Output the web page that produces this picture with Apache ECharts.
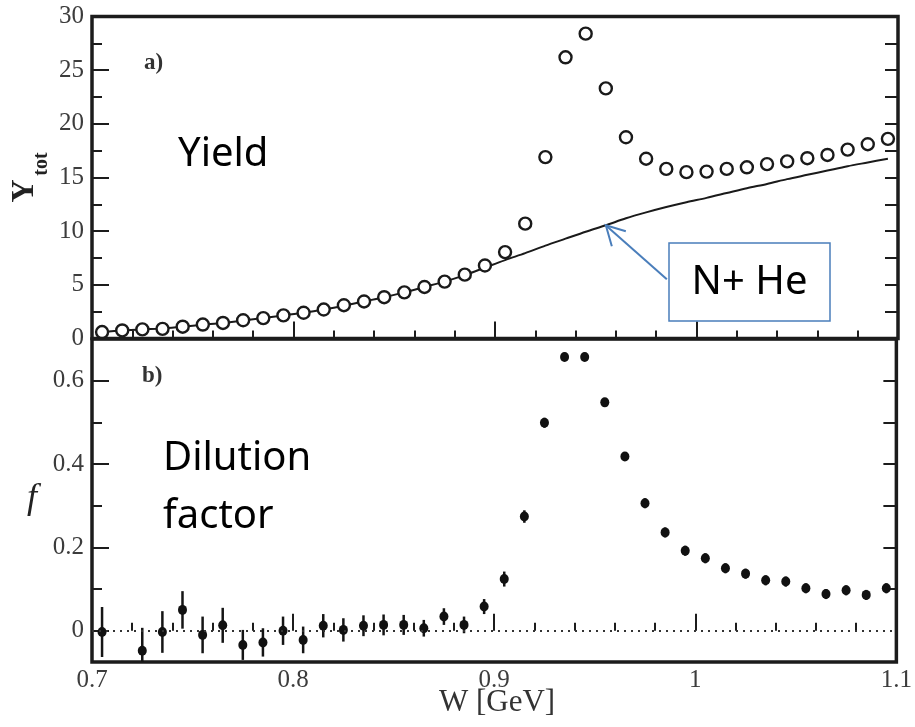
<!DOCTYPE html>
<html>
<head>
<meta charset="utf-8">
<script src="https://cdn.jsdelivr.net/npm/echarts@6/dist/echarts.min.js"></script>
<style>
html,body{margin:0;padding:0;background:#fff;}
#chart{width:915px;height:727px;}
</style>
</head>
<body>
<div id="chart"></div>
<script>
// ---- data ----
const wPoints = [0.705,0.715,0.725,0.735,0.745,0.755,0.765,0.775,0.785,0.795,
                 0.805,0.815,0.825,0.835,0.845,0.855,0.865,0.875,0.885,0.895,
                 0.905,0.915,0.925,0.935,0.945,0.955,0.965,0.975,0.985,0.995,
                 1.005,1.015,1.025,1.035,1.045,1.055,1.065,1.075,1.085,1.095];
const yieldVals = [0.6,0.75,0.85,0.9,1.1,1.3,1.45,1.7,1.9,2.15,
                   2.4,2.7,3.1,3.45,3.85,4.3,4.8,5.3,5.95,6.8,
                   8.05,10.7,16.9,26.2,28.4,23.3,18.75,16.75,15.8,15.5,
                   15.55,15.8,15.95,16.25,16.5,16.8,17.1,17.6,18.1,18.6];
const nHeVals = [0.6,0.75,0.85,0.92,1.1,1.28,1.45,1.68,1.9,2.15,
                 2.4,2.7,3.05,3.45,3.85,4.3,4.8,5.3,5.9,6.6,
                 7.3,7.95,8.65,9.3,9.95,10.55,11.2,11.75,12.25,12.7,
                 13.1,13.55,14.0,14.4,14.85,15.25,15.65,16.05,16.4,16.75];
const fVals = [-0.003,null,-0.048,-0.003,0.050,-0.010,0.013,-0.034,-0.028,0.000,
               -0.022,0.012,0.002,0.012,0.014,0.014,0.006,0.034,0.014,0.058,
               0.124,0.274,0.499,0.657,0.657,0.548,0.418,0.306,0.236,0.192,
               0.174,0.150,0.137,0.121,0.118,0.102,0.088,0.097,0.086,0.102];
const fErrs = [0.060,null,0.055,0.050,0.045,0.044,0.042,0.036,0.034,0.034,
               0.032,0.028,0.028,0.025,0.025,0.024,0.020,0.020,0.020,0.018,
               0.018,0.015,0.012,0.010,0.010,0.010,0.010,0.012,0.012,0.012,
               0.012,0.012,0.012,0.012,0.012,0.012,0.012,0.012,0.012,0.012];
const xTicks = {min:0.7, max:1.1, interval:0.1};
const xLabelValues = [0.7, 0.8, 0.9, 1.0, 1.1];
const yTopTicks = {min:0, max:30, interval:5};
const fRange = {min:-0.075, max:0.7};
const fLabelTicks = [0, 0.2, 0.4, 0.6];
const fMinorTicks = [0.1, 0.3, 0.5];
const fRightTicks = [0.1, 0.2, 0.3, 0.4, 0.5, 0.6];
const annotTip = [0.955, 10.55];

// ---- build ----
const frameColor = '#1c1c1c';
const labelFont = {fontFamily:'Liberation Serif', fontSize:25, color:'#3c3c3c'};
const yieldData = wPoints.map((w,i)=>[w, yieldVals[i]]);
const nHeData = wPoints.map((w,i)=>[w, nHeVals[i]]);
const fData = [], fErrData = [];
wPoints.forEach((w,i)=>{
  if (fVals[i] !== null) { fData.push([w, fVals[i]]); fErrData.push([w, fVals[i], fErrs[i]]); }
});

function xAxisCfg(grid, showLabel){
  return {
    type:'value', gridIndex:grid, min:xTicks.min, max:xTicks.max, interval:xTicks.interval,
    axisLine:{show:false},
    axisTick:{show:true, inside:true, length:17, lineStyle:{color:frameColor, width:2}},
    minorTick:{show:true, splitNumber:5, length:8, lineStyle:{color:frameColor, width:2}},
    splitLine:{show:false}, minorSplitLine:{show:false},
    axisLabel:Object.assign({show:showLabel, margin:6, customValues:xLabelValues, hideOverlap:false,
      formatter:function(v){ return String(Math.round(v*10)/10); }}, labelFont)
  };
}

const chart = echarts.init(document.getElementById('chart'), null, {renderer:'canvas'});
chart.setOption({
  animation:false,
  backgroundColor:'#fff',
  grid:[
    {left:92, width:806, top:16.5, height:322, show:true, borderColor:frameColor, borderWidth:3.5, backgroundColor:'transparent'},
    {left:92, width:806, top:339, height:323, show:true, borderColor:frameColor, borderWidth:3.5, backgroundColor:'transparent'}
  ],
  xAxis:[ xAxisCfg(0,false), xAxisCfg(1,true) ],
  yAxis:[
    {type:'value', gridIndex:0, position:'left', min:yTopTicks.min, max:yTopTicks.max, interval:yTopTicks.interval,
     axisLine:{show:false}, splitLine:{show:false},
     axisTick:{show:true, inside:true, length:17, lineStyle:{color:frameColor, width:2}},
     minorTick:{show:true, splitNumber:2, length:10, lineStyle:{color:frameColor, width:2}},
     axisLabel:Object.assign({margin:8, showMinLabel:true, showMaxLabel:true}, labelFont)},
    {type:'value', gridIndex:0, position:'right', min:yTopTicks.min, max:yTopTicks.max, interval:yTopTicks.interval,
     axisLine:{show:false}, splitLine:{show:false}, axisLabel:{show:false},
     axisTick:{show:true, inside:true, length:13, lineStyle:{color:frameColor, width:2}},
     minorTick:{show:true, splitNumber:2, length:13, lineStyle:{color:frameColor, width:2}}},
    {type:'value', gridIndex:1, position:'left', min:fRange.min, max:fRange.max,
     axisLine:{show:false}, splitLine:{show:false},
     axisTick:{show:true, inside:true, length:17, customValues:fLabelTicks, lineStyle:{color:frameColor, width:2}},
     axisLabel:Object.assign({margin:8, customValues:fLabelTicks}, labelFont)},
    {type:'value', gridIndex:1, position:'left', min:fRange.min, max:fRange.max,
     axisLine:{show:false}, splitLine:{show:false}, axisLabel:{show:false},
     axisTick:{show:true, inside:true, length:10, customValues:fMinorTicks, lineStyle:{color:frameColor, width:2}}},
    {type:'value', gridIndex:1, position:'right', min:fRange.min, max:fRange.max,
     axisLine:{show:false}, splitLine:{show:false}, axisLabel:{show:false},
     axisTick:{show:true, inside:true, length:13, customValues:fRightTicks, lineStyle:{color:frameColor, width:2}}}
  ],
  series:[
    {type:'line', xAxisIndex:0, yAxisIndex:0, data:nHeData, showSymbol:false, smooth:0.3,
     lineStyle:{color:'#1a1a1a', width:2}, z:2},
    {type:'scatter', xAxisIndex:0, yAxisIndex:0, data:yieldData, symbol:'circle', symbolSize:12,
     itemStyle:{color:'#fff', borderColor:'#1a1a1a', borderWidth:2.4, opacity:1}, z:3},
    {type:'custom', xAxisIndex:1, yAxisIndex:2, data:fErrData, z:3,
     encode:{x:0, y:1},
     renderItem:function(params, api){
       const x = api.value(0), f = api.value(1), e = api.value(2);
       const lo = Math.max(f - e, fRange.min), hi = Math.min(f + e, fRange.max);
       const p1 = api.coord([x, lo]), p2 = api.coord([x, hi]);
       return {type:'line', shape:{x1:p1[0], y1:p1[1], x2:p2[0], y2:p2[1]},
               style:{stroke:'#151515', lineWidth:2.5}};
     }},
    {type:'scatter', xAxisIndex:1, yAxisIndex:2, data:fData, symbol:'circle', symbolSize:[9,10],
     itemStyle:{color:'#111', opacity:1}, z:4,
     markLine:{silent:true, symbol:'none', label:{show:false},
       lineStyle:{type:[2,5], color:'#333', width:2},
       data:[{yAxis:0}]}}
  ]
});

// annotations
const tip = chart.convertToPixel({xAxisIndex:0, yAxisIndex:0}, annotTip);
const tx = tip[0], ty = tip[1];
const blue = '#4a7ebb';
chart.setOption({
  graphic:[
    {type:'text', x:178, y:155, style:{text:'Yield', font:'40px "Noto Sans"', fill:'#000', verticalAlign:'middle'}},
    {type:'text', x:163, y:459, style:{text:'Dilution', font:'40px "Noto Sans"', fill:'#000', verticalAlign:'middle'}},
    {type:'text', x:163, y:517, style:{text:'factor', font:'40px "Noto Sans"', fill:'#000', verticalAlign:'middle'}},
    {type:'rect', shape:{x:669, y:243, width:161, height:78}, style:{fill:'#fff', stroke:blue, lineWidth:1.5}, z:10},
    {type:'text', x:749.5, y:283, style:{text:'N+ He', font:'40px "Noto Sans"', fill:'#000', align:'center', verticalAlign:'middle'}, z:11},
    {type:'line', shape:{x1:tx+61, y1:ty+54, x2:tx+1, y2:ty+1}, style:{stroke:blue, lineWidth:2}, z:10},
    {type:'polyline', shape:{points:[[tx+20, ty+6],[tx, ty],[tx+6, ty+21]]}, style:{stroke:blue, lineWidth:2, fill:null}, z:10},
    {type:'text', x:144, y:63, style:{text:'a)', font:'bold 23px "Liberation Serif"', fill:'#333', verticalAlign:'middle'}},
    {type:'text', x:142, y:376, style:{text:'b)', font:'bold 23px "Liberation Serif"', fill:'#333', verticalAlign:'middle'}},
    {type:'text', x:25, y:191, rotation:Math.PI/2, style:{text:'Y', font:'bold 32px "Liberation Serif"', fill:'#222', align:'center', verticalAlign:'middle'}},
    {type:'text', x:42, y:164, rotation:Math.PI/2, style:{text:'tot', font:'bold 20px "Liberation Serif"', fill:'#222', align:'center', verticalAlign:'middle'}},
    {type:'text', x:32, y:499, style:{text:'f', font:'italic 36px "Liberation Serif"', fill:'#222', align:'center', verticalAlign:'middle'}},
    {type:'text', x:497, y:703, style:{text:'W [GeV]', font:'31px "Liberation Serif"', fill:'#333', align:'center', verticalAlign:'middle'}}
  ]
});
</script>
</body>
</html>
